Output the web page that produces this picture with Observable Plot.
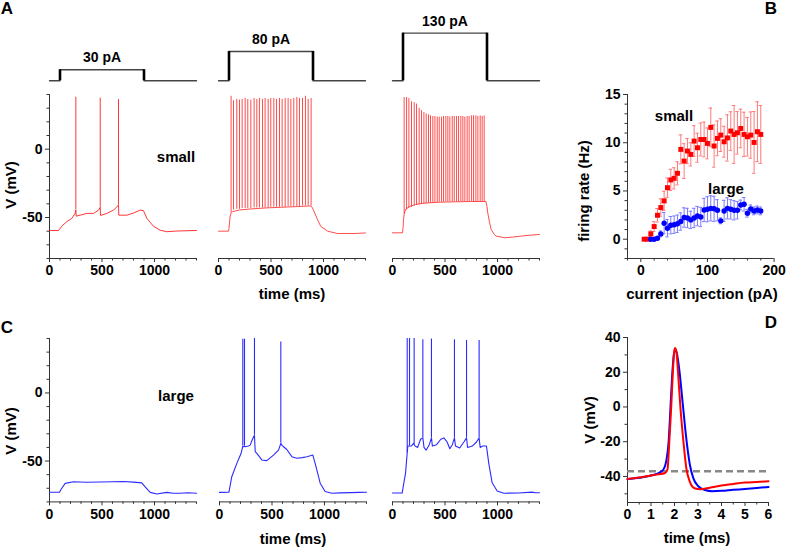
<!DOCTYPE html>
<html><head><meta charset="utf-8">
<script src="https://cdn.jsdelivr.net/npm/d3@7"></script>
<script src="https://cdn.jsdelivr.net/npm/@observablehq/plot@0.6"></script>
<style>
body{margin:0;background:#fff;}
#fig{position:relative;width:787px;height:547px;overflow:hidden;background:#fff;font-family:"Liberation Sans",Arial,sans-serif;font-weight:bold;color:#000;}
.lab{position:absolute;white-space:nowrap;font-weight:bold;line-height:1;}
#fig svg{position:absolute;overflow:visible;}
</style></head><body><div id="fig"></div>
<script>
// ---------- data ----------
const stimCurrents = [30, 80, 130];
const stimLabels = ["30 pA", "80 pA", "130 pA"];
const stimOn = 100, stimOff = 900, sweepEnd = 1400;

const timeMajor = [0, 500, 1000];
const timeMinor = [100, 200, 300, 400, 600, 700, 800, 900, 1100, 1200, 1300, 1400];
const vMajor = [-50, 0];
const vMinor = [-80, -70, -60, -40, -30, -20, -10, 10, 20, 30, 40];

// small cell, 30 pA
const small30Trace = [[0,-59.5],[86,-59.5],[117,-56.4],[165,-53],[213,-50.6],[244,-47],[251,-44.5],[254,-49],[292,-48.3],[356,-47],[419,-47],[467,-44.6],[483,-42.5],[486,-48.5],[546,-47],[610,-44.6],[650,-41.5],[657,-40.5],[660,-48.3],[737,-48.3],[800,-46.7],[863,-44.6],[895,-45],[927,-50.6],[990,-56.4],[1054,-59.3],[1117,-60.4],[1213,-59.9],[1400,-59.5]];
const small30SpikeT = [251, 483, 657];
const small30SpikeLo = [-44.5, -42.5, -40.5];
const small30SpikeHi = [38, 37.3, 36.3];

// small cell, 80 pA
const small80Trace = [[0,-60],[95,-60],[100,-58],[111,-49],[120,-46.5],[133,-45.7],[200,-44.5],[300,-43.8],[450,-43],[600,-42.5],[750,-42],[880,-41.5],[895,-43],[911,-45.7],[943,-51.6],[974,-56.5],[1038,-60],[1133,-61.7],[1300,-61.7],[1400,-61.3]];
const small80SpikeT = [120,143,174,200,225,254,279,308,339,365,390,419,444,473,498,527,552,581,606,635,663,689,717,746,771,800,828,854,882];
const small80SpikeLo = [-46.5,-44.5,-44,-44,-43.5,-43.5,-43.5,-43.5,-43,-43,-43,-43,-43,-43,-42.5,-42.5,-42.5,-42.5,-42.5,-42.5,-42,-42,-42,-42,-42,-41.5,-41.5,-41.5,-41.5];
const small80SpikeHi = [38.7,35.4,36.4,35.9,36.4,37.1,36.4,35.9,37.1,36.4,37.1,36.4,37.1,36.4,37.1,37.1,36.4,37.1,36.4,37.1,37.1,36.4,37.1,37.8,37.1,37.1,38.7,36.4,37.1];

// small cell, 130 pA
const small130Trace = [[0,-61.2],[95,-61.2],[100,-58],[105,-52],[111,-47.5],[125,-44],[160,-42],[220,-40.5],[300,-39.5],[450,-38.8],[600,-38.5],[750,-38.3],[890,-38.3],[900,-42],[908,-47],[925,-54],[940,-58.8],[970,-62.5],[988,-63.6],[1067,-64.8],[1150,-64.3],[1225,-63.6],[1300,-63],[1400,-62.4]];
const small130SpikeT = [111,134,156,181,207,229,254,276,299,321,343,362,384,404,426,445,467,486,508,527,546,569,588,610,629,651,670,689,711,730,753,772,794,813,835,854,873];
const small130SpikeLo = [-47.5,-44.5,-43.5,-42.5,-41.5,-41,-40.5,-40.2,-40,-39.8,-39.5,-39.3,-39.2,-39,-39,-38.9,-38.8,-38.8,-38.7,-38.7,-38.6,-38.6,-38.5,-38.5,-38.5,-38.5,-38.4,-38.4,-38.4,-38.3,-38.3,-38.3,-38.3,-38.3,-38.3,-38.3,-38.3];
const small130SpikeHi = [37.8,37.8,37.1,34.7,34.0,33.0,29.9,28.2,26.8,25.8,25.1,24.4,23.9,23.9,23.4,23.4,23.4,23.9,23.9,23.9,23.4,23.9,23.9,23.9,23.9,23.9,23.9,23.4,23.9,23.9,24.4,24.4,24.4,23.9,24.4,23.9,24.4];

// large cell, 30 pA
const large30Trace = [[0,-72.9],[95,-72.9],[117,-70],[149,-66.4],[229,-65.2],[350,-65.6],[483,-65.4],[600,-65.2],[705,-65],[800,-65.5],[879,-66],[911,-68.9],[959,-73],[1022,-74.2],[1117,-73],[1180,-73.6],[1244,-73.7],[1320,-73.3],[1400,-73.7]];
const large30SpikeT = [], large30SpikeLo = [], large30SpikeHi = [];

// large cell, 80 pA
const large80Trace = [[0,-73],[90,-72.8],[117,-61.5],[165,-51.7],[205,-44.5],[222,-39],[230,-39.5],[238,-39],[245,-39.5],[275,-39],[292,-38.3],[317,-33.4],[333,-31],[340,-43],[356,-44.4],[403,-49.2],[451,-49.7],[514,-45.6],[562,-42],[584,-37],[595,-38.5],[610,-39.5],[641,-41.5],[689,-46.8],[737,-48],[790,-47.5],[832,-46.8],[889,-45.6],[911,-51.7],[959,-66.3],[1006,-72.4],[1070,-73.6],[1150,-73.4],[1250,-73.2],[1330,-73],[1400,-72.9]];
const large80SpikeT = [222, 238, 333, 584];
const large80SpikeLo = [-39, -39, -31, -37];
const large80SpikeHi = [39.5, 39.5, 40, 37.5];

// large cell, 130 pA
const large130Trace = [[0,-73.5],[92,-73.5],[108,-66],[124,-59],[140,-44],[146,-39],[180,-39],[200,-37],[215,-39],[240,-40],[267,-34],[289,-33],[300,-40],[320,-42],[350,-38],[371,-33],[380,-39],[420,-38],[460,-34],[490,-33],[520,-36],[546,-41],[570,-38],[590,-33],[600,-39],[640,-40.4],[680,-36],[705,-33],[715,-40],[760,-39],[800,-36],[825,-33],[835,-40],[860,-39],[895,-39],[917,-51.7],[949,-66],[997,-72],[1060,-73.6],[1200,-73.5],[1330,-72.8],[1360,-73.3],[1400,-73.3]];
const large130SpikeT = [140, 162, 206, 289, 371, 590, 705, 825];
const large130SpikeLo = [-44, -39, -38, -33, -33, -33, -33, -33];
const large130SpikeHi = [40, 40, 40, 39, 39.6, 39, 38.5, 38.5];

// panel B: firing rate vs current
const smallCurrent = [5,10,15,20,25,30,35,40,45,50,55,60,65,70,75,80,85,90,95,100,105,110,115,120,125,130,135,140,145,150,155,160,165,170,175,180];
const smallRate = [0,0,0.55,1.31,2.48,3.28,3.97,5.34,6.14,6.31,6.83,9.31,8.10,9.14,8.79,10.17,9.48,10.34,10.34,9.93,11.59,9.66,10.45,10.79,10.10,10.50,11.21,10.86,11.03,11.48,10.86,10.62,10.79,10.03,11.14,10.86];
const smallSem = [0,0,0.3,0.5,0.7,0.9,1.0,1.0,1.1,1.1,1.2,1.5,1.8,1.3,1.2,1.6,1.5,1.7,1.8,1.6,2.0,2.2,1.8,1.7,1.6,2.4,2.0,3.0,2.2,2.0,2.3,2.0,2.4,3.2,3.1,3.0];
const largeCurrent = [15,20,25,30,35,40,45,50,55,60,65,70,75,80,85,90,95,100,105,110,115,120,125,130,135,140,145,150,155,160,165,170,175,180];
const largeRate = [0,0,0.1,0.55,1.66,1.14,1.45,1.5,1.6,1.83,2.25,2.2,2.0,2.2,2.4,2.3,3.03,3.1,3.2,3.15,3.0,1.9,2.93,3.2,3.1,3.0,3.0,3.55,3.62,2.69,3.14,2.93,3.03,2.93];
const largeSem = [0,0,0.1,0.3,1.1,0.9,0.9,0.9,0.9,0.9,1.0,1.0,0.9,1.0,1.0,1.0,1.2,1.3,1.3,1.3,1.1,0.3,1.1,1.1,1.0,1.0,0.9,0.5,0.7,0.4,0.4,0.4,0.4,0.4];
const rateMajor = [0, 5, 10, 15];
const rateMinor = [-2,-1,1,2,3,4,6,7,8,9,11,12,13,14];
const currentMajor = [0, 100, 200];
const currentMinor = [-20, 20, 40, 60, 80, 120, 140, 160, 180];

// panel D: action potential waveforms
const apSmall = [[0,-41.5],[0.5,-40.6],[1,-39.4],[1.3,-38.8],[1.6,-38],[1.7,-36],[1.78,-20],[1.86,0],[1.93,20],[1.98,31],[2.02,34],[2.08,32],[2.15,20],[2.25,0],[2.38,-20],[2.5,-35],[2.65,-43],[2.85,-46.8],[3.1,-47.4],[3.5,-46.5],[4,-45.2],[4.5,-44.3],[5,-43.5],[5.5,-43.2],[6,-42.8]];
const apLarge = [[0,-41.5],[0.5,-40.8],[1,-39.5],[1.4,-37.5],[1.55,-35.5],[1.65,-31],[1.75,-20],[1.83,0],[1.9,18],[1.97,30],[2.03,33],[2.1,31],[2.2,22],[2.35,2],[2.5,-18],[2.65,-33],[2.8,-41],[3,-45.5],[3.3,-47.8],[3.6,-48.5],[4,-48.3],[4.5,-47.7],[5,-47.2],[5.5,-46.6],[6,-46.1]];
const apThreshold = -37;
const apTimeMajor = [0,1,2,3,4,5,6];
const apTimeMinor = [0.5,1.5,2.5,3.5,4.5,5.5];
const apVMajor = [-40,-20,0,20,40];
const apVMinor = [-50,-30,-10,10,30];

// ---------- drawing ----------
const fig = document.getElementById("fig");
const RED = "#ff1f1f", BLUE = "#2b2bff", AX = "#333";
const FONT = "bold 14px 'Liberation Sans', Arial, sans-serif";
const plain = d => String(d);
const blank = () => "";

function place(svg, left, top) {
  svg.style.position = "absolute";
  svg.style.left = left + "px";
  svg.style.top = top + "px";
  fig.append(svg);
}
function label(text, cx, cy, size, rot) {
  const d = document.createElement("div");
  d.className = "lab";
  d.textContent = text;
  d.style.fontSize = size + "px";
  d.style.left = cx + "px";
  d.style.top = cy + "px";
  d.style.transform = "translate(-50%,-50%)" + (rot ? " rotate(-90deg)" : "");
  fig.append(d);
}

function tracePlot(o) {
  const fw = 147, ml = 42, mr = 8, mt = 4, mb = 26;
  const spikes = o.t.map((t, i) => ({t, lo: o.lo[i], hi: o.hi[i]}));
  const marks = [
    Plot.ruleY([-80], {stroke: AX}),
    Plot.axisX({ticks: timeMajor, tickSize: 4, tickPadding: 3, tickFormat: plain, label: null, stroke: AX}),
    Plot.axisX({ticks: timeMinor, tickSize: 2.5, tickFormat: blank, label: null, stroke: AX}),
    Plot.line(o.trace, {x: d => d[0], y: d => d[1], stroke: o.color, strokeWidth: o.sw}),
    Plot.ruleX(spikes, {x: "t", y1: "lo", y2: "hi", stroke: o.color, strokeWidth: o.sw})
  ];
  if (o.yAxis) {
    marks.unshift(
      Plot.ruleX([0], {stroke: AX}),
      Plot.axisY({ticks: vMajor, tickSize: 4, tickPadding: 3, tickFormat: plain, label: null, stroke: AX}),
      Plot.axisY({ticks: vMinor, tickSize: 2.5, tickFormat: blank, label: null, stroke: AX})
    );
  }
  const svg = Plot.plot({
    width: fw + ml + mr, height: o.fh + mt + mb,
    marginLeft: ml, marginRight: mr, marginTop: mt, marginBottom: mb,
    x: {domain: [0, sweepEnd], label: null},
    y: {domain: [-80, 40], label: null, axis: o.yAxis ? undefined : null},
    style: {background: "transparent", font: FONT, overflow: "visible"},
    marks
  });
  place(svg, o.left - ml, o.top - mt);
}

function stimPlot(left, amp, text) {
  const fw = 147, ml = 4, mr = 4, mt = 26, mb = 4, fh = 51.24;
  const pts = [[0,0],[stimOn,0],[stimOn,amp],[stimOff,amp],[stimOff,0],[sweepEnd,0]];
  const svg = Plot.plot({
    width: fw + ml + mr, height: fh + mt + mb,
    marginLeft: ml, marginRight: mr, marginTop: mt, marginBottom: mb,
    x: {domain: [0, sweepEnd], axis: null},
    y: {domain: [0, 140], axis: null},
    style: {background: "transparent", font: FONT, overflow: "visible"},
    marks: [
      Plot.line(pts, {x: d => d[0], y: d => d[1], stroke: "#444", strokeWidth: 1.4}),
      Plot.ruleX([stimOn, stimOff], {y1: 0, y2: amp, stroke: "#000", strokeWidth: 2.6}),
      Plot.text([text], {x: (stimOn + stimOff) / 2, y: amp, text: d => d, dy: -12, fill: "#000"})
    ]
  });
  place(svg, left - ml, 80 - fh - mt);
}

// Panel A
const aLeft = [49, 218, 391.5];
stimCurrents.forEach((c, i) => stimPlot(aLeft[i], c, stimLabels[i]));
tracePlot({left: aLeft[0], top: 94, fh: 164, trace: small30Trace, t: small30SpikeT, lo: small30SpikeLo, hi: small30SpikeHi, color: RED, sw: 0.9, yAxis: true});
tracePlot({left: aLeft[1], top: 94, fh: 164, trace: small80Trace, t: small80SpikeT, lo: small80SpikeLo, hi: small80SpikeHi, color: RED, sw: 0.8});
tracePlot({left: aLeft[2], top: 94, fh: 164, trace: small130Trace, t: small130SpikeT, lo: small130SpikeLo, hi: small130SpikeHi, color: RED, sw: 0.8});

// Panel C
const cLeft = [49, 218.5, 392];
tracePlot({left: cLeft[0], top: 338.3, fh: 163.4, trace: large30Trace, t: large30SpikeT, lo: large30SpikeLo, hi: large30SpikeHi, color: BLUE, sw: 1.1, yAxis: true});
tracePlot({left: cLeft[1], top: 338.3, fh: 163.4, trace: large80Trace, t: large80SpikeT, lo: large80SpikeLo, hi: large80SpikeHi, color: BLUE, sw: 1.1});
tracePlot({left: cLeft[2], top: 338.3, fh: 163.4, trace: large130Trace, t: large130SpikeT, lo: large130SpikeLo, hi: large130SpikeHi, color: BLUE, sw: 1.1});

// Panel B
{
  const fw = 146.6, fh = 164, ml = 36, mr = 14, mt = 8, mb = 26;
  const small = smallCurrent.map((c, i) => ({c, r: smallRate[i], e: smallSem[i]}));
  const large = largeCurrent.map((c, i) => ({c, r: largeRate[i], e: largeSem[i]}));
  const bars = (data, color) => [
    Plot.ruleX(data.filter(d => d.e > 0), {x: "c", y1: d => d.r - d.e, y2: d => d.r + d.e, stroke: color, strokeWidth: 1}),
    Plot.ruleY(data.filter(d => d.e > 0), {y: d => d.r + d.e, x1: d => d.c - 2.6, x2: d => d.c + 2.6, stroke: color, strokeWidth: 1}),
    Plot.ruleY(data.filter(d => d.e > 0), {y: d => d.r - d.e, x1: d => d.c - 2.6, x2: d => d.c + 2.6, stroke: color, strokeWidth: 1})
  ];
  const svg = Plot.plot({
    width: fw + ml + mr, height: fh + mt + mb,
    marginLeft: ml, marginRight: mr, marginTop: mt, marginBottom: mb,
    x: {domain: [-20, 200], label: null},
    y: {domain: [-2, 15], label: null},
    style: {background: "transparent", font: FONT, overflow: "visible"},
    marks: [
      Plot.ruleX([-20], {stroke: AX}),
      Plot.ruleY([-2], {stroke: AX}),
      Plot.axisY({ticks: rateMajor, tickSize: 4, tickPadding: 3, tickFormat: plain, label: null, stroke: AX}),
      Plot.axisY({ticks: rateMinor, tickSize: 2.5, tickFormat: blank, label: null, stroke: AX}),
      Plot.axisX({ticks: currentMajor, tickSize: 4, tickPadding: 3, tickFormat: plain, label: null, stroke: AX}),
      Plot.axisX({ticks: currentMinor, tickSize: 2.5, tickFormat: blank, label: null, stroke: AX}),
      ...bars(small, "#ff7a7a"),
      ...bars(large, "#7a7aff"),
      Plot.dot(small, {x: "c", y: "r", symbol: "square", fill: "#ff0000", r: 2.8}),
      Plot.dot(large, {x: "c", y: "r", symbol: "circle", fill: "#0000ff", r: 2.7})
    ]
  });
  place(svg, 626.7 - ml, 94 - mt);
}

// Panel D
{
  const fw = 141, fh = 165, ml = 36, mr = 14, mt = 8, mb = 26;
  const svg = Plot.plot({
    width: fw + ml + mr, height: fh + mt + mb,
    marginLeft: ml, marginRight: mr, marginTop: mt, marginBottom: mb,
    x: {domain: [0, 6], label: null},
    y: {domain: [-55, 40], label: null},
    style: {background: "transparent", font: FONT, overflow: "visible"},
    marks: [
      Plot.ruleX([0], {stroke: AX}),
      Plot.ruleY([-55], {stroke: AX}),
      Plot.axisY({ticks: apVMajor, tickSize: 4, tickPadding: 3, tickFormat: plain, label: null, stroke: AX}),
      Plot.axisY({ticks: apVMinor, tickSize: 2.5, tickFormat: blank, label: null, stroke: AX}),
      Plot.axisX({ticks: apTimeMajor, tickSize: 4, tickPadding: 3, tickFormat: plain, label: null, stroke: AX}),
      Plot.axisX({ticks: apTimeMinor, tickSize: 2.5, tickFormat: blank, label: null, stroke: AX}),
      Plot.ruleY([apThreshold], {stroke: "#888", strokeWidth: 2.5, strokeDasharray: "7,4"}),
      Plot.line(apLarge, {x: d => d[0], y: d => d[1], stroke: "#0000ff", strokeWidth: 2, curve: "monotone-x"}),
      Plot.line(apSmall, {x: d => d[0], y: d => d[1], stroke: "#ff0000", strokeWidth: 2, curve: "monotone-x"})
    ]
  });
  place(svg, 626.7 - ml, 337.3 - mt);
}

// Text labels
label("A", 7, 8, 17); label("B", 771, 8, 17); label("C", 7, 327, 17); label("D", 771, 322, 17);
label("V (mV)", 10, 185, 15, true);
label("V (mV)", 10, 431, 15, true);
label("V (mV)", 589, 420, 15, true);
label("time (ms)", 292, 293, 15);
label("time (ms)", 293, 538, 15);
label("time (ms)", 697, 537, 15);
label("firing rate (Hz)", 583, 191, 15, true);
label("current injection (pA)", 702, 293, 15);
label("small", 176, 156, 15);
label("large", 176, 395, 15);
label("small", 674, 115, 15);
label("large", 726, 188, 15);
</script></body></html>
